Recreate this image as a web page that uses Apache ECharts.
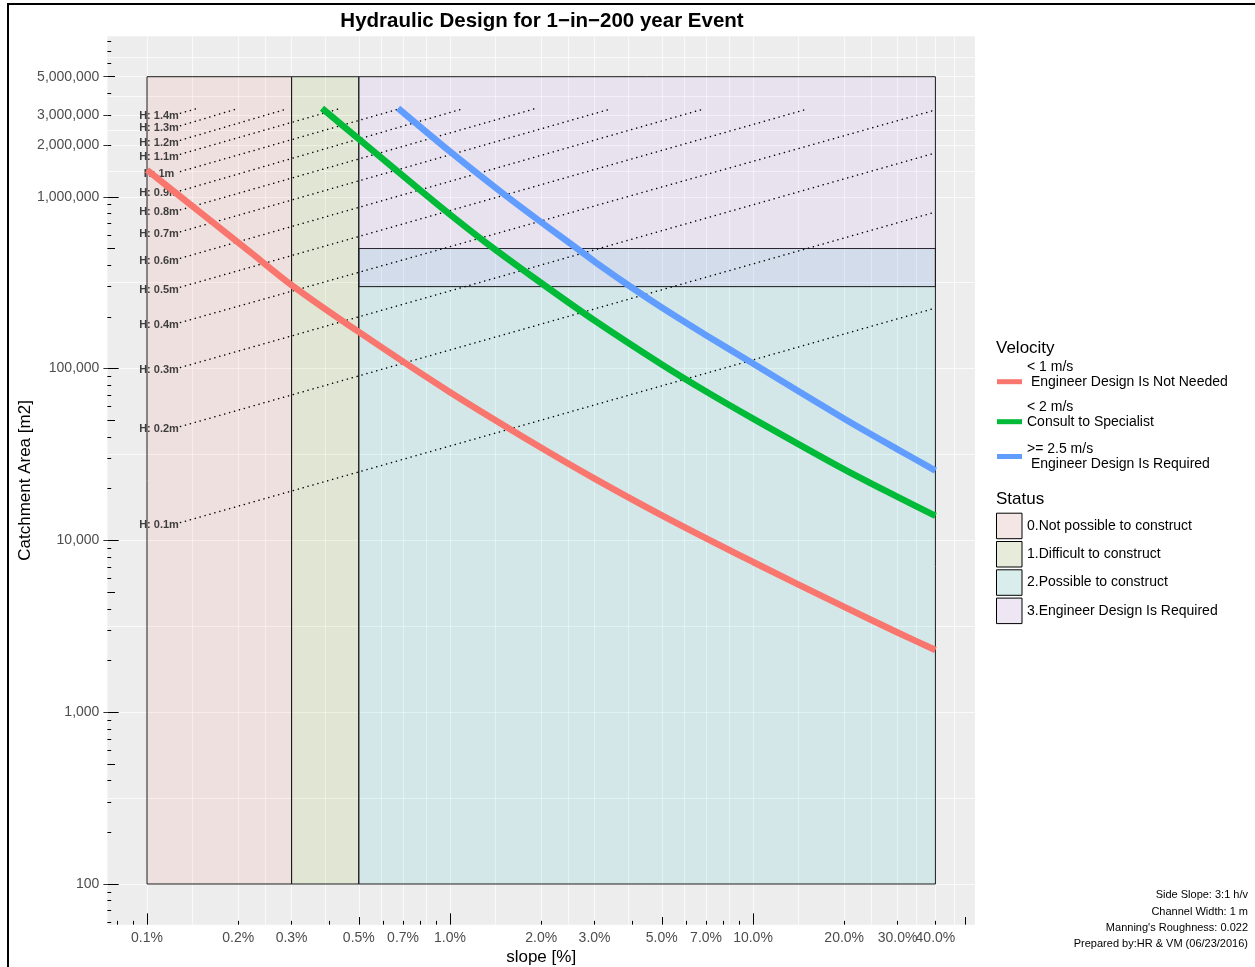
<!DOCTYPE html>
<html>
<head>
<meta charset="utf-8">
<script src="https://cdn.jsdelivr.net/npm/echarts@6/dist/echarts.min.js"></script>
<style>
html,body{margin:0;padding:0;background:#ffffff;}
#c{width:1255px;height:967px;}
</style>
</head>
<body>
<div id="c"></div>
<script>
// ---------------- data ----------------
const titleText = 'Hydraulic Design for 1\u2212in\u2212200 year Event';
const xTitle = 'slope [%]';
const yTitle = 'Catchment Area [m2]';

const xRange = [0.074, 54];
const yRange = [58, 8600000];

const xTickLabels = [0.1, 0.2, 0.3, 0.5, 0.7, 1, 2, 3, 5, 7, 10, 20, 30, 40];
const yTickLabels = [100, 1000, 10000, 100000, 1000000, 2000000, 3000000, 5000000];

const xMinorGrid = [0.1414, 0.2449, 0.3873, 0.5916, 0.8367, 1.414, 2.449, 3.873, 5.916, 8.367, 14.14, 24.49, 34.64, 46.19];
const yMinorGrid = [316.2, 3162, 31623, 316228, 1414214, 2449490, 3872983, 6454972];

const xLogTicksShort = [0.08, 0.09, 0.2, 0.3, 0.4, 0.6, 0.7, 0.8, 0.9, 2, 3, 4, 6, 7, 8, 9, 20, 30, 40];
const xLogTicksMid = [0.5, 5, 50];
const xLogTicksLong = [0.1, 1, 10];
const yLogTicksShort = [60, 70, 80, 90, 200, 300, 400, 600, 700, 800, 900,
  2000, 3000, 4000, 6000, 7000, 8000, 9000, 20000, 30000, 40000, 60000, 70000, 80000, 90000,
  200000, 300000, 400000, 600000, 700000, 800000, 900000, 2000000, 3000000, 4000000, 6000000, 7000000, 8000000];
const yLogTicksMid = [500, 5000, 50000, 500000, 5000000];
const yLogTicksLong = [100, 1000, 10000, 100000, 1000000];

// Status zones
const statusNames = ['0.Not possible to construct', '1.Difficult to construct', '2.Possible to construct', '3.Engineer Design Is Required'];
const statusX0 = [0.1, 0.3, 0.5, 0.5];
const statusX1 = [0.3, 0.5, 40, 40];
const statusY0 = [100, 100, 100, 300000];
const statusY1 = [5000000, 5000000, 500000, 5000000];

// Velocity curves
const velNames = ['< 1 m/s\n Engineer Design Is Not Needed', '< 2 m/s\nConsult to Specialist', '>= 2.5 m/s\n Engineer Design Is Required'];
const redSlope = [0.1, 0.15, 0.22, 0.3, 0.5, 1, 2, 3, 5, 10, 20, 30, 40];
const redArea = [1432000, 810000, 474000, 306600, 163500, 72900, 34600, 22900, 14000, 7490, 4100, 2910, 2300];
const greenSlope = [0.378, 0.5, 0.8, 1, 1.3, 2, 3, 5, 7, 10, 20, 30, 40];
const greenArea = [3280000, 2170000, 1088000, 789000, 549000, 315000, 190500, 105700, 73600, 51200, 25900, 17900, 13900];
const blueSlope = [0.674, 1, 1.46, 2, 2.67, 3, 4, 5, 7, 10, 20, 30, 40];
const blueArea = [3280000, 1835000, 1081000, 711000, 490000, 420000, 294500, 226800, 156500, 107100, 51100, 33900, 25500];

// Constant-depth lines
const hDepth = [1.4, 1.3, 1.2, 1.1, 1, 0.9, 0.8, 0.7, 0.6, 0.5, 0.4, 0.3, 0.2, 0.1];
const hStartSlope = [0.129, 0.129, 0.129, 0.129, 0.129, 0.129, 0.129, 0.129, 0.129, 0.129, 0.129, 0.129, 0.129, 0.129];
const hStartArea = [3067000, 2590000, 2135000, 1770000, 1404000, 1084000, 840000, 626000, 439000, 298000, 185500, 101500, 46000, 12700];
const hEndSlope = [0.145, 0.198, 0.29, 0.43, 0.68, 1.1, 1.9, 3.4, 6.9, 15.2, 40, 40, 40, 40];
const hEndArea = [3250000, 3250000, 3250000, 3250000, 3250000, 3250000, 3250000, 3250000, 3250000, 3250000, 3200000, 1800000, 815000, 225000];

const notes = ['Side Slope: 3:1 h/v', 'Channel Width: 1 m', "Manning's Roughness: 0.022", 'Prepared by:HR & VM (06/23/2016)'];

// ---------------- styles ----------------
const FONT = '"Liberation Sans", Arial, Helvetica, sans-serif';
const statusFill = ['rgba(248,118,109,0.1)', 'rgba(124,174,0,0.1)', 'rgba(0,191,196,0.1)', 'rgba(199,124,255,0.1)'];
const statusKey = ['rgb(243,230,229)', 'rgb(230,235,218)', 'rgb(218,237,237)', 'rgb(238,230,243)'];
const velColors = ['#F8766D', '#00BA38', '#619CFF'];

const chart = echarts.init(document.getElementById('c'), null, {renderer: 'canvas', width: 1255, height: 967});

function baseAxis(pos) {
  return {
    type: 'log', logBase: 10, gridIndex: 0, position: pos,
    min: pos === 'bottom' ? xRange[0] : yRange[0],
    max: pos === 'bottom' ? xRange[1] : yRange[1],
    axisLine: {show: false},
    splitLine: {show: false},
    minorTick: {show: false},
    minorSplitLine: {show: false},
    axisLabel: {show: false},
    axisTick: {show: false},
    silent: true
  };
}
function tickAxis(pos, values, len) {
  const a = baseAxis(pos);
  a.axisTick = {show: true, inside: true, length: len, customValues: values, lineStyle: {color: '#000', width: 1}};
  return a;
}
function gridAxis(pos, values) {
  const a = baseAxis(pos);
  a.axisTick = {show: false, customValues: values};
  a.splitLine = {show: true, lineStyle: {color: 'rgba(255,255,255,0.7)', width: 1}};
  return a;
}
function xLabelAxis(values) {
  const a = baseAxis('bottom');
  a.axisLabel = {show: true, customValues: values, formatter: v => Number(v).toFixed(1) + '%',
    hideOverlap: false, color: '#4d4d4d', fontSize: 14, fontFamily: FONT, margin: 6};
  return a;
}

// x tick labels split over two axes (alternating) so neighbouring labels are never dropped
const xMain = xLabelAxis(xTickLabels.filter((v, i) => i % 2 === 0));
const xAlt = xLabelAxis(xTickLabels.filter((v, i) => i % 2 === 1));
xMain.name = xTitle;
xMain.nameLocation = 'middle';
xMain.nameGap = 24;
xMain.nameMoveOverlap = false;
xMain.nameTextStyle = {color: '#000', fontSize: 17, fontFamily: FONT};

const yMain = baseAxis('left');
yMain.axisLabel = {show: true, customValues: yTickLabels, hideOverlap: false,
  formatter: v => String(Math.round(v)).replace(/\B(?=(\d{3})+(?!\d))/g, ','),
  color: '#4d4d4d', fontSize: 14, fontFamily: FONT, margin: 8};
yMain.axisTick = {show: true, inside: false, length: 4, customValues: yTickLabels, lineStyle: {color: '#333', width: 1}};
yMain.name = yTitle;
yMain.nameLocation = 'middle';
yMain.nameGap = 74;
yMain.nameMoveOverlap = false;
yMain.nameTextStyle = {color: '#000', fontSize: 17, fontFamily: FONT};

const series = [];

// status rectangles
statusNames.forEach((name, i) => {
  series.push({
    type: 'custom', name: name, xAxisIndex: 0, yAxisIndex: 0, silent: true, z: 2,
    encode: {x: [0, 1], y: [2, 3]},
    data: [[statusX0[i], statusX1[i], statusY0[i], statusY1[i]]],
    renderItem: (params, api) => {
      const p0 = api.coord([api.value(0), api.value(2)]);
      const p1 = api.coord([api.value(1), api.value(3)]);
      return {
        type: 'rect',
        shape: {x: p0[0], y: p1[1], width: p1[0] - p0[0], height: p0[1] - p1[1]},
        style: {fill: statusFill[i], stroke: '#1a1a1a', lineWidth: 1}
      };
    }
  });
});

// constant-depth dotted lines
hDepth.forEach((h, i) => {
  series.push({
    type: 'line', name: 'H' + h, xAxisIndex: 0, yAxisIndex: 0, silent: true, z: 3,
    showSymbol: false, symbol: 'none',
    data: [[hStartSlope[i], hStartArea[i]], [hEndSlope[i], hEndArea[i]]],
    lineStyle: {color: '#000', width: 1.5, type: [0.1, 5], cap: 'round'}
  });
});

// depth labels
series.push({
  type: 'scatter', name: 'Hlabels', xAxisIndex: 0, yAxisIndex: 0, silent: true, z: 4,
  symbol: 'circle', symbolSize: 1,
  itemStyle: {color: 'rgba(0,0,0,0)'},
  data: hDepth.map((h, i) => [hStartSlope[i], hStartArea[i]]),
  label: {
    show: true, position: 'left', distance: 0, align: 'center', offset: [-21, 2.5],
    formatter: p => 'H: ' + String(hDepth[p.dataIndex]) + 'm',
    color: '#111', fontSize: 11, fontWeight: 'bold', fontFamily: FONT
  }
});

// velocity curves
const velData = [
  redSlope.map((s, i) => [s, redArea[i]]),
  greenSlope.map((s, i) => [s, greenArea[i]]),
  blueSlope.map((s, i) => [s, blueArea[i]])
];
velNames.forEach((name, i) => {
  series.push({
    type: 'line', name: name, xAxisIndex: 0, yAxisIndex: 0, silent: true, z: 6,
    showSymbol: false, symbol: 'none', smooth: 0.3,
    color: velColors[i],
    itemStyle: {color: velColors[i]},
    lineStyle: {color: velColors[i], width: 6.5},
    data: velData[i]
  });
});

const legendCommon = {
  orient: 'vertical', padding: 0, selectedMode: false, icon: 'rect',
  itemWidth: 25, itemHeight: 5, itemGap: 2,
  textStyle: {color: '#000', fontSize: 14, fontFamily: FONT, lineHeight: 15}
};

const option = {
  animation: false,
  backgroundColor: '#ffffff',
  grid: {left: 107.4, top: 36.25, width: 867.5, height: 888.4, show: true,
    backgroundColor: '#EDEDED', borderWidth: 0, containLabel: false, outerBoundsMode: 'none'},
  xAxis: [xMain, xAlt, gridAxis('bottom', xTickLabels.concat(xMinorGrid)),
    tickAxis('bottom', xLogTicksShort, 3.8), tickAxis('bottom', xLogTicksMid, 7.6), tickAxis('bottom', xLogTicksLong, 11.3)],
  yAxis: [yMain, gridAxis('left', yTickLabels.concat(yMinorGrid)),
    tickAxis('left', yLogTicksShort, 3.8), tickAxis('left', yLogTicksMid, 7.6), tickAxis('left', yLogTicksLong, 11.3)],
  legend: [
    Object.assign({}, legendCommon, {left: 997, top: 359.2, formatter: n => n + '\n ', data: [velNames[0]]}),
    Object.assign({}, legendCommon, {left: 997, top: 399.2, formatter: n => n + '\n ', data: [velNames[1]]}),
    Object.assign({}, legendCommon, {left: 997, top: 441.5, data: [velNames[2]]}),
    Object.assign({}, legendCommon, {left: 996, top: 512.7, itemWidth: 25.5, itemHeight: 25.5, itemGap: 1.8,
      data: statusNames.map((n, i) => ({name: n, itemStyle: {color: statusKey[i], borderColor: '#000', borderWidth: 1}}))})
  ],
  graphic: [
    {type: 'rect', silent: true, z: 100, shape: {x: 8, y: 4, width: 1300, height: 1000},
      style: {fill: 'none', stroke: '#000', lineWidth: 2}},
    {type: 'text', silent: true, x: 542, y: 21,
      style: {text: titleText, align: 'center', verticalAlign: 'middle', fill: '#000',
        font: 'bold 20.5px ' + FONT}},
    {type: 'text', silent: true, x: 996, y: 348,
      style: {text: 'Velocity', align: 'left', verticalAlign: 'middle', fill: '#000', font: '17px ' + FONT}},
    {type: 'text', silent: true, x: 996, y: 499,
      style: {text: 'Status', align: 'left', verticalAlign: 'middle', fill: '#000', font: '17px ' + FONT}},
    {type: 'text', silent: true, x: 1248, y: 887,
      style: {text: notes.join('\n'), align: 'right', verticalAlign: 'top', lineHeight: 16.4,
        fill: '#000', font: '11px ' + FONT}}
  ],
  series: series
};
chart.setOption(option);
</script>
</body>
</html>
